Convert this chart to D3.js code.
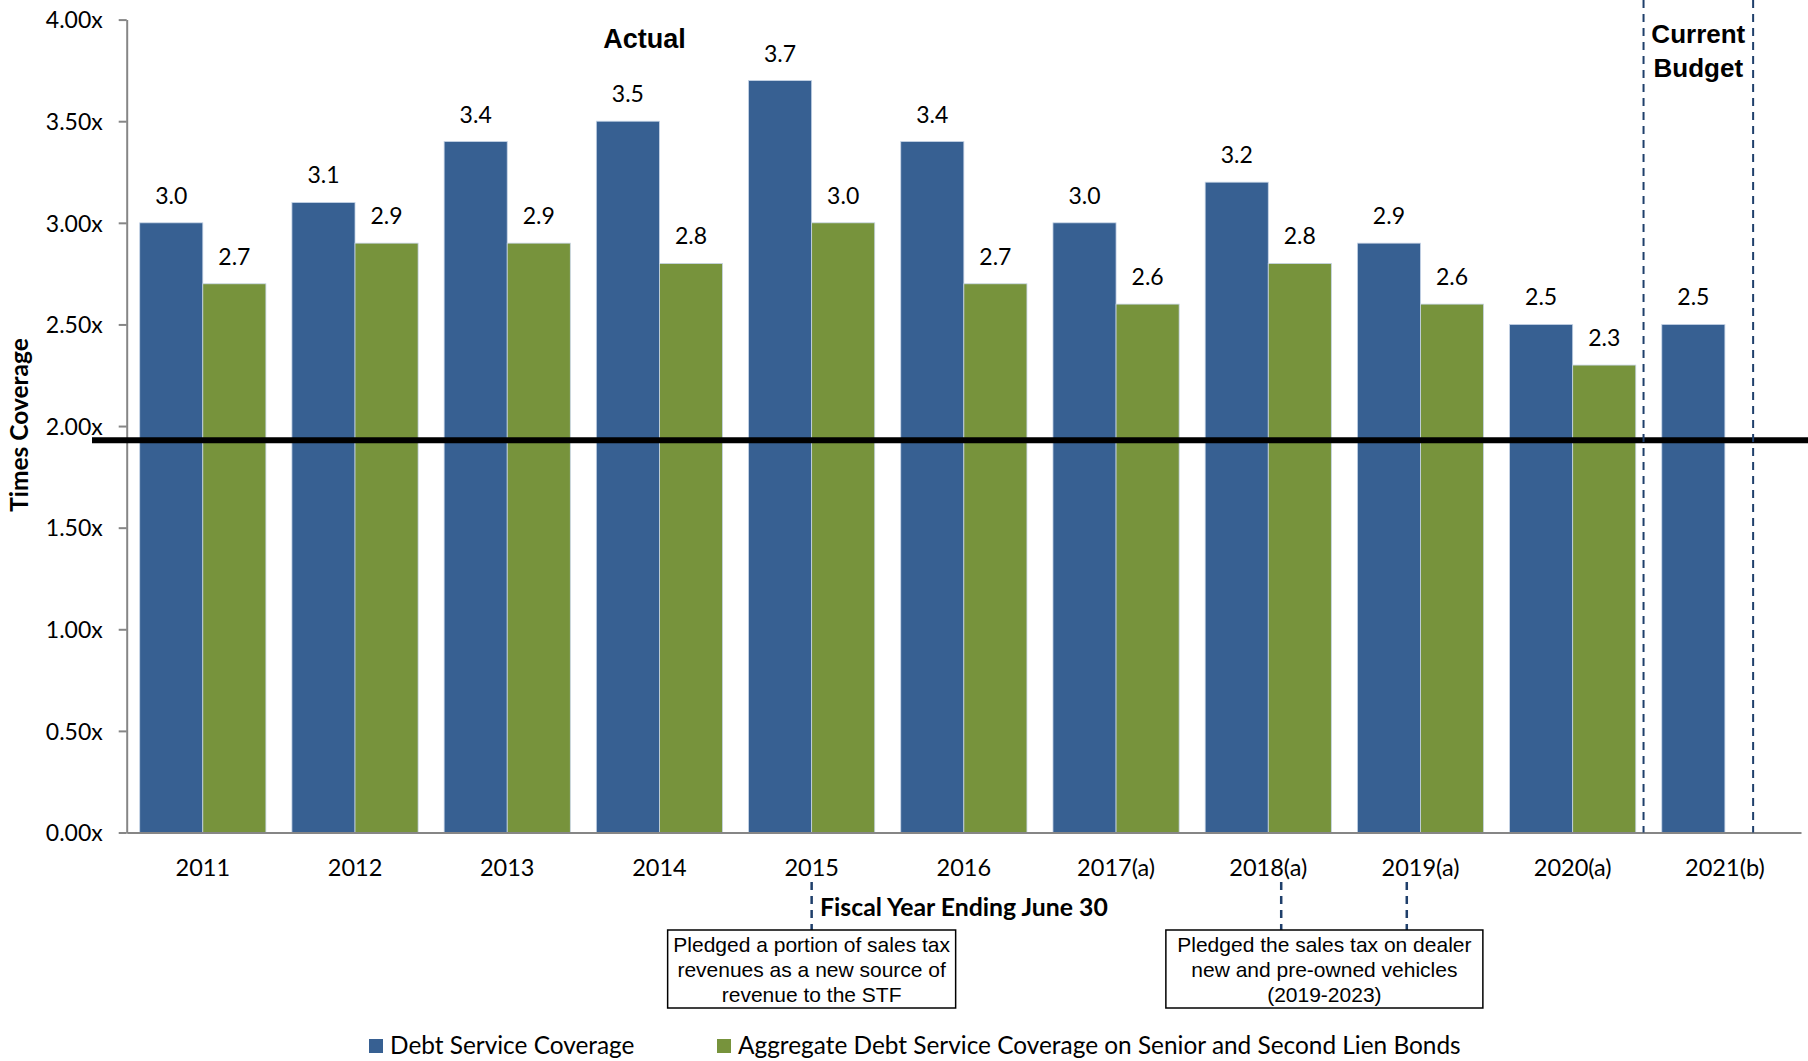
<!DOCTYPE html>
<html>
<head>
<meta charset="utf-8">
<script src="https://cdn.jsdelivr.net/npm/d3@7"></script>
<style>
  body { margin: 0; background: #fff; }
  svg { display: block; }
  .tick text { font-family: Lato, sans-serif; }
</style>
</head>
<body>
<div id="chart"></div>
<script>
// chart values
const years = ["2011", "2012", "2013", "2014", "2015", "2016", "2017(a)", "2018(a)", "2019(a)", "2020(a)", "2021(b)"];
const debtService = [3.0, 3.1, 3.4, 3.5, 3.7, 3.4, 3.0, 3.2, 2.9, 2.5, 2.5];
const aggregate = [2.7, 2.9, 2.9, 2.8, 3.0, 2.7, 2.6, 2.8, 2.6, 2.3, null];
const yTicks = [0, 0.5, 1, 1.5, 2, 2.5, 3, 3.5, 4];
const seriesNames = ["Debt Service Coverage", "Aggregate Debt Service Coverage on Senior and Second Lien Bonds"];
const threshold = 1.93;
const note1 = ["Pledged a portion of sales tax", "revenues as a new source of", "revenue to the STF"];
const note2 = ["Pledged the sales tax on dealer", "new and pre-owned vehicles", "(2019-2023)"];

const colors = ["#376092", "#77933c"];
const navy = "#1f3f6b";

const width = 1808, height = 1061;
const margin = { top: 19.6, right: 7, bottom: 228.5, left: 126.7 };
const contentWidth = width - margin.left - margin.right;
const contentHeight = height - margin.top - margin.bottom;

const svg = d3.select("#chart")
  .append("svg")
  .attr("width", width)
  .attr("height", height);

const g = svg.append("g")
  .attr("transform", "translate(" + margin.left + "," + margin.top + ")");

const x = d3.scaleBand()
  .domain(years)
  .range([0, contentWidth])
  .paddingInner(0.171)
  .paddingOuter(0.0855);
const step = x.step();
const bw = x.bandwidth() / 2;

const y = d3.scaleLinear().domain([0, 4]).range([contentHeight, 0]);

// bars
const series = [debtService, aggregate];
series.forEach((vals, s) => {
  const data = years.map((yr, i) => ({ yr: yr, v: vals[i] })).filter(d => d.v != null);
  g.selectAll(".bar" + s)
    .data(data)
    .enter()
    .append("rect")
    .attr("class", "bar" + s)
    .attr("x", d => x(d.yr) + s * bw)
    .attr("width", bw)
    .attr("y", d => y(d.v))
    .attr("height", d => contentHeight - y(d.v))
    .attr("fill", colors[s])
    .attr("stroke", "#c6d4e6")
    .attr("stroke-width", 0.8);

  g.selectAll(".lbl" + s)
    .data(data)
    .enter()
    .append("text")
    .attr("x", d => x(d.yr) + s * bw + bw / 2)
    .attr("y", d => y(d.v) - 19)
    .attr("text-anchor", "middle")
    .style("font-family", "Lato, sans-serif")
    .style("font-size", "23px")
    .attr("fill", "#000")
    .text(d => d3.format(".1f")(d.v));
});

// y axis
const yAxis = g.append("g")
  .call(d3.axisLeft(y).tickValues(yTicks).tickSize(8).tickSizeOuter(0).tickFormat(d => d3.format(".2f")(d) + "x"));
yAxis.select(".domain").attr("stroke", "#868686").attr("stroke-width", 2);
yAxis.selectAll(".tick line").attr("stroke", "#868686").attr("stroke-width", 2);
yAxis.selectAll(".tick text").attr("x", -24).attr("dy", "0.36em").style("font-size", "23px").attr("fill", "#000");

// x axis
const xAxis = g.append("g")
  .attr("transform", "translate(0," + contentHeight + ")")
  .call(d3.axisBottom(x).tickSize(0).tickSizeOuter(0));
xAxis.select(".domain").attr("stroke", "#868686").attr("stroke-width", 2);
xAxis.selectAll(".tick text").attr("y", 27).attr("dy", "0.71em").style("font-size", "23.5px").attr("fill", "#000");

// threshold line
g.append("line")
  .attr("x1", -margin.left + 92).attr("x2", width - margin.left)
  .attr("y1", y(threshold)).attr("y2", y(threshold))
  .attr("stroke", "#000").attr("stroke-width", 6);

// budget separators
const xb = x("2021(b)");
[xb - step * 0.12, xb + step * 0.6].forEach(px => {
  g.append("line")
    .attr("x1", px).attr("x2", px)
    .attr("y1", -margin.top).attr("y2", contentHeight)
    .attr("stroke", navy).attr("stroke-width", 2)
    .attr("stroke-dasharray", "8,6");
});

const boldArial = "'Liberation Sans', Arial, sans-serif";
g.append("text")
  .attr("x", x("2014") + x.bandwidth() / 2 - 15).attr("y", 48 - margin.top)
  .attr("text-anchor", "middle")
  .style("font-family", boldArial).style("font-weight", "bold").style("font-size", "27px")
  .text("Actual");

["Current", "Budget"].forEach((t, i) => {
  g.append("text")
    .attr("x", xb - step * 0.12 + (step * 0.72) / 2).attr("y", 43 + i * 34 - margin.top)
    .attr("text-anchor", "middle")
    .style("font-family", boldArial).style("font-weight", "bold").style("font-size", "26px")
    .text(t);
});

// axis titles
svg.append("text")
  .attr("transform", "translate(28," + 425 + ") rotate(-90)")
  .attr("text-anchor", "middle")
  .style("font-family", "Lato, sans-serif").style("font-weight", "bold").style("font-size", "24.5px")
  .text("Times Coverage");

svg.append("text")
  .attr("x", 820).attr("y", 916)
  .style("font-family", "Lato, sans-serif").style("font-weight", "bold").style("font-size", "24.8px")
  .text("Fiscal Year Ending June 30");

// annotation boxes
function noteBox(lines, cx, w, links) {
  const top = 930 - margin.top, h = 78;
  links.forEach(px => {
    g.append("line")
      .attr("x1", px).attr("x2", px)
      .attr("y1", 882 - margin.top).attr("y2", top)
      .attr("stroke", navy).attr("stroke-width", 2.5)
      .attr("stroke-dasharray", "8,6");
  });
  g.append("rect")
    .attr("x", cx - w / 2).attr("y", top)
    .attr("width", w).attr("height", h)
    .attr("fill", "#fff").attr("stroke", "#000").attr("stroke-width", 1.5);
  lines.forEach((t, i) => {
    g.append("text")
      .attr("x", cx).attr("y", top + 22 + i * 25)
      .attr("text-anchor", "middle")
      .style("font-family", "'Liberation Sans', Arial, sans-serif").style("font-size", "21px")
      .text(t);
  });
}
const c2015 = x("2015") + x.bandwidth() / 2;
const c2018 = x("2018(a)") + x.bandwidth() / 2;
const c2019 = x("2019(a)") + x.bandwidth() / 2;
noteBox(note1, c2015, 288, [c2015]);
noteBox(note2, (c2018 + c2019) / 2 - 20, 317, [c2018 + step * 0.085, c2019 - step * 0.09]);

// legend
const legendX = [369, 717];
seriesNames.forEach((name, i) => {
  const lg = svg.append("g").attr("transform", "translate(" + legendX[i] + ",1040)");
  lg.append("rect").attr("x", 0).attr("y", -1).attr("width", 14).attr("height", 14).attr("fill", colors[i]);
  lg.append("text").attr("x", 21).attr("y", 14)
    .style("font-family", "Lato, sans-serif").style("font-size", "24.4px")
    .text(name);
});
</script>
</body>
</html>
